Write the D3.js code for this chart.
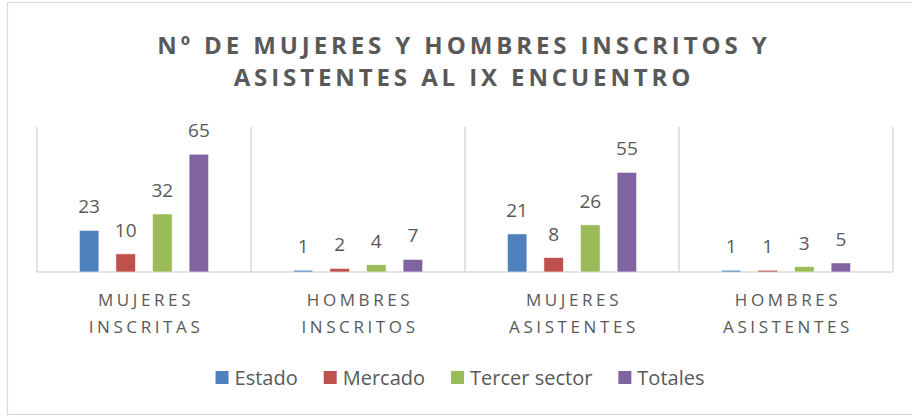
<!DOCTYPE html>
<html>
<head>
<meta charset="utf-8">
<script src="https://cdn.jsdelivr.net/npm/d3@7"></script>
<style>
    body { margin: 0; background: #fff; }
    text { font-family: "Open Sans", "Noto Sans", sans-serif; fill: #595959; }
</style>
</head>
<body>
<div class="chart"></div>
<script>
// Data
const categories = ['MUJERES INSCRITAS', 'HOMBRES INSCRITOS', 'MUJERES ASISTENTES', 'HOMBRES ASISTENTES'];
const seriesNames = ['Estado', 'Mercado', 'Tercer sector', 'Totales'];
const estado = [23, 1, 21, 1];
const mercado = [10, 2, 8, 1];
const tercerSector = [32, 4, 26, 3];
const totales = [65, 7, 55, 5];
const seriesColors = ['#4F81BD', '#C0504D', '#9BBB59', '#8064A2'];
const titleLines = ['Nº DE MUJERES Y HOMBRES INSCRITOS Y', 'ASISTENTES AL IX ENCUENTRO'];

const seriesValues = [estado, mercado, tercerSector, totales];
const dataset = categories.map((c, i) => ({
    category: c,
    values: seriesNames.map((s, j) => ({ series: s, value: seriesValues[j][i] }))
}));

// Dimensions
const dimensions = {
    width: 912,
    height: 416,
    plotLeft: 37,
    plotRight: 893,
    plotTop: 127,
    plotBottom: 272
};

const svg = d3.select('.chart')
    .append('svg')
    .attr('width', dimensions.width)
    .attr('height', dimensions.height);

// Chart border
svg.append('rect')
    .attr('x', 7.5)
    .attr('y', 2.5)
    .attr('width', 910)
    .attr('height', 412)
    .attr('fill', 'none')
    .attr('stroke', '#d9d9d9')
    .attr('stroke-width', 1.2);

// Title
svg.append('g')
    .selectAll('text')
    .data(titleLines)
    .join('text')
    .attr('x', 464)
    .attr('y', (d, i) => 54 + i * 32)
    .attr('text-anchor', 'middle')
    .style('font-size', '24px')
    .style('font-weight', 'bold')
    .style('letter-spacing', '3.9px')
    .text(d => d);

// Scales
const x0 = d3.scaleBand()
    .domain(categories)
    .range([dimensions.plotLeft, dimensions.plotRight])
    .padding(0);

const x1 = d3.scaleBand()
    .domain(seriesNames)
    .range([0, x0.bandwidth()])
    .paddingInner(0.464)
    .paddingOuter(1.156);

const yScale = d3.scaleLinear()
    .domain([0, 80])
    .range([dimensions.plotBottom, dimensions.plotTop]);

const colorScale = d3.scaleOrdinal()
    .domain(seriesNames)
    .range(seriesColors);

// Grid: category separators and baseline
const separators = categories.map(c => x0(c)).concat([dimensions.plotRight]);
svg.append('g')
    .selectAll('line')
    .data(separators)
    .join('line')
    .attr('x1', d => d)
    .attr('x2', d => d)
    .attr('y1', dimensions.plotTop)
    .attr('y2', dimensions.plotBottom)
    .attr('stroke', '#d9d9d9')
    .attr('stroke-width', 1.5);

svg.append('line')
    .attr('x1', dimensions.plotLeft)
    .attr('x2', dimensions.plotRight)
    .attr('y1', dimensions.plotBottom)
    .attr('y2', dimensions.plotBottom)
    .attr('stroke', '#d9d9d9')
    .attr('stroke-width', 1.5);

// Bars
const groups = svg.append('g')
    .selectAll('g')
    .data(dataset)
    .join('g')
    .attr('transform', d => `translate(${x0(d.category)}, 0)`);

groups.selectAll('rect')
    .data(d => d.values)
    .join('rect')
    .attr('x', d => x1(d.series))
    .attr('y', d => yScale(d.value))
    .attr('width', x1.bandwidth())
    .attr('height', d => yScale(0) - yScale(d.value))
    .attr('fill', d => colorScale(d.series))
    .attr('stroke', '#fff')
    .attr('stroke-width', 0.6);

groups.selectAll('text')
    .data(d => d.values)
    .join('text')
    .attr('x', d => x1(d.series) + x1.bandwidth() / 2)
    .attr('y', d => yScale(d.value) - 17)
    .attr('text-anchor', 'middle')
    .style('font-size', '19px')
    .text(d => d.value);

// Category axis labels
const xLabels = svg.append('g')
    .selectAll('text')
    .data(categories)
    .join('text')
    .attr('x', d => x0(d) + x0.bandwidth() / 2)
    .attr('y', 306)
    .attr('text-anchor', 'middle')
    .style('font-size', '17px')
    .style('letter-spacing', '3.6px');

xLabels.selectAll('tspan')
    .data(d => d.split(' '))
    .join('tspan')
    .attr('x', function() { return d3.select(this.parentNode).attr('x'); })
    .attr('dx', 2)
    .attr('dy', (d, i) => i === 0 ? 0 : 27)
    .text(d => d);

// Legend
const legendGroup = svg.append('g');
const legendItems = legendGroup.selectAll('g')
    .data(seriesNames)
    .join('g');

legendItems.append('rect')
    .attr('width', 13)
    .attr('height', 13)
    .attr('y', 371)
    .attr('fill', colorScale);

legendItems.append('text')
    .attr('x', 19)
    .attr('y', 384.5)
    .style('font-size', '20px')
    .text(d => d);

let offset = 0;
const itemWidths = [];
legendItems.each(function() {
    const w = 19 + d3.select(this).select('text').node().getComputedTextLength();
    itemWidths.push(w);
});
const legendGap = 26;
const legendTotal = d3.sum(itemWidths) + legendGap * (itemWidths.length - 1);
offset = 460 - legendTotal / 2;
legendItems.attr('transform', (d, i) => {
    const x = offset;
    offset += itemWidths[i] + legendGap;
    return `translate(${x}, 0)`;
});
</script>
</body>
</html>
